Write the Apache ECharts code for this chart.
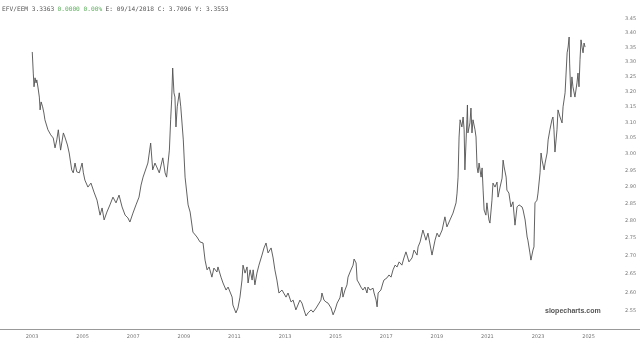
<!DOCTYPE html>
<html>
<head>
<meta charset="utf-8">
<script src="https://cdn.jsdelivr.net/npm/echarts@6/dist/echarts.min.js"></script>
<style>html,body{margin:0;padding:0;background:#fff}#c{width:640px;height:343px}</style>
</head>
<body>
<div id="c"></div>
<script>
// decimal years
const years = [2003.01,2003.05,2003.08,2003.12,2003.16,2003.19,2003.24,2003.29,2003.32,2003.36,2003.42,2003.47,2003.51,2003.58,2003.63,2003.74,2003.84,2003.91,2003.98,2004.04,2004.13,2004.24,2004.30,2004.40,2004.47,2004.57,2004.63,2004.70,2004.77,2004.87,2004.98,2005.03,2005.09,2005.21,2005.33,2005.45,2005.57,2005.69,2005.77,2005.85,2005.96,2006.08,2006.20,2006.32,2006.44,2006.56,2006.68,2006.79,2006.87,2006.99,2007.11,2007.23,2007.31,2007.39,2007.58,2007.69,2007.77,2007.86,2007.93,2008.03,2008.17,2008.26,2008.32,2008.43,2008.48,2008.52,2008.56,2008.61,2008.65,2008.69,2008.74,2008.82,2008.88,2008.98,2009.05,2009.17,2009.25,2009.36,2009.52,2009.64,2009.76,2009.84,2009.92,2010.00,2010.11,2010.19,2010.31,2010.35,2010.47,2010.55,2010.67,2010.75,2010.91,2010.94,2011.06,2011.14,2011.22,2011.30,2011.34,2011.42,2011.50,2011.54,2011.62,2011.70,2011.74,2011.81,2011.89,2011.97,2012.09,2012.17,2012.25,2012.33,2012.45,2012.53,2012.60,2012.68,2012.76,2012.88,2012.92,2013.04,2013.12,2013.24,2013.32,2013.43,2013.59,2013.67,2013.75,2013.83,2013.91,2014.03,2014.11,2014.23,2014.30,2014.42,2014.46,2014.54,2014.62,2014.70,2014.82,2014.90,2014.98,2015.06,2015.17,2015.25,2015.29,2015.37,2015.45,2015.49,2015.57,2015.69,2015.73,2015.81,2015.85,2015.92,2016.00,2016.08,2016.16,2016.24,2016.28,2016.36,2016.48,2016.52,2016.60,2016.64,2016.68,2016.79,2016.87,2016.91,2017.03,2017.11,2017.19,2017.27,2017.35,2017.43,2017.51,2017.62,2017.70,2017.78,2017.82,2017.90,2018.02,2018.10,2018.22,2018.26,2018.34,2018.45,2018.57,2018.65,2018.81,2018.93,2019.01,2019.09,2019.21,2019.32,2019.40,2019.52,2019.64,2019.76,2019.80,2019.84,2019.88,2019.92,2019.99,2020.04,2020.08,2020.11,2020.19,2020.21,2020.23,2020.31,2020.35,2020.39,2020.43,2020.51,2020.55,2020.59,2020.63,2020.67,2020.75,2020.79,2020.83,2020.87,2020.94,2020.98,2021.06,2021.10,2021.18,2021.22,2021.30,2021.38,2021.42,2021.50,2021.58,2021.62,2021.66,2021.74,2021.77,2021.85,2021.93,2022.01,2022.09,2022.17,2022.25,2022.37,2022.41,2022.49,2022.57,2022.60,2022.68,2022.72,2022.80,2022.84,2022.88,2022.96,2023.00,2023.08,2023.12,2023.16,2023.24,2023.28,2023.36,2023.40,2023.47,2023.55,2023.59,2023.63,2023.67,2023.75,2023.79,2023.87,2023.95,2023.99,2024.07,2024.15,2024.19,2024.23,2024.25,2024.30,2024.34,2024.38,2024.46,2024.54,2024.58,2024.62,2024.66,2024.70,2024.74,2024.78,2024.82,2024.86];
const values = [3.334,3.262,3.216,3.246,3.229,3.239,3.212,3.182,3.140,3.166,3.150,3.130,3.108,3.114,3.076,3.060,3.050,3.019,3.044,3.076,3.012,3.066,3.053,3.028,3.003,2.951,2.942,2.972,2.945,2.942,2.972,2.942,2.920,2.899,2.911,2.884,2.860,2.816,2.837,2.802,2.825,2.846,2.869,2.852,2.875,2.840,2.816,2.808,2.796,2.822,2.846,2.869,2.905,2.929,2.972,3.034,2.951,2.972,2.960,2.942,2.988,2.942,2.929,3.012,3.108,3.173,3.279,3.196,3.182,3.085,3.150,3.196,3.150,3.044,2.929,2.846,2.825,2.767,2.753,2.739,2.736,2.688,2.661,2.669,2.641,2.666,2.655,2.669,2.641,2.625,2.606,2.614,2.587,2.566,2.545,2.558,2.587,2.633,2.674,2.652,2.669,2.625,2.661,2.633,2.661,2.620,2.652,2.674,2.702,2.722,2.736,2.708,2.722,2.694,2.661,2.633,2.598,2.606,2.611,2.587,2.598,2.574,2.579,2.553,2.579,2.571,2.553,2.537,2.545,2.553,2.547,2.558,2.561,2.579,2.598,2.579,2.574,2.571,2.558,2.540,2.553,2.571,2.585,2.614,2.587,2.606,2.620,2.641,2.655,2.674,2.691,2.680,2.633,2.625,2.614,2.606,2.614,2.598,2.614,2.606,2.611,2.598,2.579,2.561,2.598,2.606,2.625,2.633,2.639,2.647,2.641,2.661,2.674,2.669,2.683,2.674,2.694,2.711,2.702,2.683,2.694,2.716,2.702,2.725,2.739,2.773,2.744,2.764,2.702,2.744,2.764,2.753,2.773,2.811,2.782,2.802,2.822,2.852,2.881,2.929,3.053,3.108,3.085,3.117,3.076,2.951,3.108,3.156,3.066,3.098,3.146,3.066,3.108,3.076,3.053,2.960,2.942,2.972,2.929,2.957,2.890,2.831,2.816,2.852,2.802,2.793,2.860,2.911,2.899,2.914,2.869,2.899,2.926,2.981,2.960,2.929,2.890,2.881,2.840,2.855,2.787,2.840,2.846,2.840,2.831,2.802,2.753,2.744,2.708,2.688,2.716,2.725,2.852,2.860,2.881,2.942,3.003,2.981,2.951,2.972,3.003,3.044,3.076,3.108,3.117,3.076,3.006,3.076,3.140,3.117,3.098,3.150,3.196,3.331,3.351,3.386,3.296,3.182,3.249,3.216,3.182,3.229,3.262,3.216,3.307,3.376,3.351,3.331,3.365,3.351];
const yTicks = [2.55,2.60,2.65,2.70,2.75,2.80,2.85,2.90,2.95,3.00,3.05,3.10,3.15,3.20,3.25,3.30,3.35,3.40,3.45];
const xTickYears = [2003,2005,2007,2009,2011,2013,2015,2017,2019,2021,2023,2025];

const seriesData = years.map((y,i)=>[y, values[i]]);

const chart = echarts.init(document.getElementById('c'), null, {renderer:'canvas'});
chart.setOption({
  animation:false,
  backgroundColor:'#fff',
  grid:{left:0,right:40,top:10,bottom:14},
  xAxis:{
    type:'value',
    min:2001.735,
    max:2025.45,
    axisLine:{lineStyle:{color:'#999',width:1}},
    axisTick:{show:false},
    splitLine:{show:false},
    axisLabel:{
      customValues:xTickYears,
      formatter:v=>String(Math.round(v)),
      fontSize:5,color:'#777',margin:5,fontFamily:'DejaVu Sans'
    }
  },
  yAxis:{
    type:'log',
    min:2.503,max:3.482,
    position:'right',
    axisLine:{show:false},axisTick:{show:false},splitLine:{show:false},
    axisLabel:{show:false}
  },
  series:[{
    type:'line',
    data:seriesData,
    showSymbol:false,
    lineStyle:{color:'#505050',width:0.9},
    markLine:{
      silent:true,symbol:'none',
      lineStyle:{color:'rgba(0,0,0,0)',width:0},
      label:{show:true,position:'end',distance:25,fontSize:5,color:'#777',fontFamily:'DejaVu Sans',
        formatter:p=>Number(p.value).toFixed(2)},
      emphasis:{disabled:true},
      data:yTicks.map(v=>({yAxis:v}))
    }
  }],
  graphic:[
    {type:'line',shape:{x1:600,y1:329.5,x2:640,y2:329.5},style:{stroke:'#999',lineWidth:1}},
    {type:'text',left:2,top:3,style:{
      text:'{a|EFV/EEM 3.3363} {g|0.0000 0.00%} {a|E: 09/14/2018 C: 3.7096 Y: 3.3553}',
      rich:{a:{fill:'#555',fontSize:6.2,fontFamily:'DejaVu Sans Mono'},g:{fill:'#5cae5c',fontSize:6.2,fontFamily:'DejaVu Sans Mono'}}
    }},
    {type:'text',left:545,top:308,style:{text:'slopecharts.com',fill:'#555',font:'bold 7px "Liberation Sans"'}}
  ]
});
</script>
</body>
</html>
